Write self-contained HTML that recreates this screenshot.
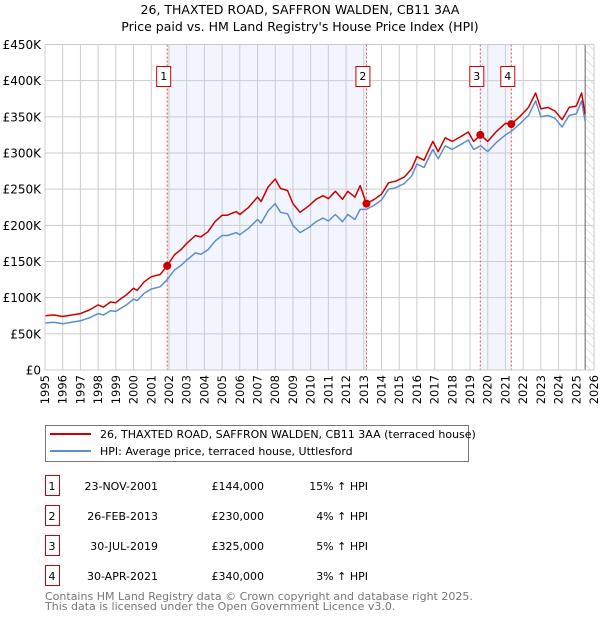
<!DOCTYPE html>
<html><head><meta charset="utf-8"><style>
body{margin:0;background:#fff;font-family:"Liberation Sans","DejaVu Sans",sans-serif;}
svg text{font-family:"DejaVu Sans","Liberation Sans",sans-serif;}
</style></head><body>
<svg id="c" width="600" height="620" viewBox="0 0 600 620" xmlns="http://www.w3.org/2000/svg">
<defs><pattern id="hatch" width="6" height="6" patternUnits="userSpaceOnUse" patternTransform="rotate(-45)"><line x1="0" y1="0" x2="0" y2="6" stroke="#ccc" stroke-width="1"/></pattern></defs>
<text x="300" y="14" text-anchor="middle" font-size="12.5">26, THAXTED ROAD, SAFFRON WALDEN, CB11 3AA</text>
<text x="300" y="31" text-anchor="middle" font-size="12.5">Price paid vs. HM Land Registry's House Price Index (HPI)</text>
<g id="plot"></g>
<g>
<rect x="45.5" y="425.5" width="423" height="36" fill="#fff" stroke="#777"/>
<line x1="50" y1="434" x2="91" y2="434" stroke="#cc0000" stroke-width="2"/>
<text x="100" y="438" font-size="11">26, THAXTED ROAD, SAFFRON WALDEN, CB11 3AA (terraced house)</text>
<line x1="50" y1="451" x2="91" y2="451" stroke="#5b8fd0" stroke-width="2"/>
<text x="100" y="455" font-size="11">HPI: Average price, terraced house, Uttlesford</text>
</g>
<g id="table" font-size="11"></g>
<text x="45" y="600" font-size="11" fill="#777">Contains HM Land Registry data © Crown copyright and database right 2025.</text>
<text x="45" y="610" font-size="11" fill="#777">This data is licensed under the Open Government Licence v3.0.</text>
</svg>
<script>
const years=[1995.0,1995.5,1996.0,1996.5,1997.0,1997.5,1998.0,1998.3,1998.7,1999.0,1999.2,1999.6,2000.0,2000.2,2000.6,2001.0,2001.5,2001.9,2002.3,2002.7,2003.0,2003.5,2003.8,2004.2,2004.6,2005.0,2005.3,2005.8,2006.0,2006.5,2007.0,2007.2,2007.6,2008.0,2008.3,2008.7,2009.0,2009.4,2009.9,2010.3,2010.7,2011.0,2011.4,2011.8,2012.1,2012.5,2012.8,2013.15,2013.6,2014.0,2014.4,2014.8,2015.3,2015.7,2016.0,2016.4,2016.9,2017.2,2017.6,2018.0,2018.5,2018.9,2019.2,2019.6,2020.0,2020.5,2021.0,2021.33,2021.8,2022.3,2022.7,2023.0,2023.4,2023.8,2024.2,2024.6,2025.0,2025.3,2025.5];
const hpi=[65,66,64,66,68,72,78,76,82,81,84,90,98,96,106,112,115,125,138,145,152,162,160,166,178,186,186,190,187,196,208,203,220,230,218,216,200,190,197,205,210,206,215,205,215,208,222,222,228,235,250,252,258,268,285,280,305,292,310,305,312,318,305,310,302,315,325,330,340,352,372,350,352,348,336,352,354,372,344];
const price=[75,76,74,76,78,83,90,87,94,93,97,104,113,110,122,129,132,144,159,167,175,186,184,191,205,214,214,219,215,225,239,233,253,264,251,248,230,218,227,236,241,237,247,236,247,239,255,230,236,243,259,261,267,278,295,290,316,302,321,316,323,329,316,325,316,330,341,340,350,363,383,361,363,358,346,363,365,383,354];
const saleYears=[2001.9,2013.15,2019.58,2021.33];
const salePrices=[144,230,325,340];
const saleLabels=["1","2","3","4"];
const saleDates=["23-NOV-2001","26-FEB-2013","30-JUL-2019","30-APR-2021"];
const saleAmounts=["£144,000","£230,000","£325,000","£340,000"];
const saleDiffs=["15% ↑ HPI","4% ↑ HPI","5% ↑ HPI","3% ↑ HPI"];
const yTicks=[0,50,100,150,200,250,300,350,400,450];
const yTickLabels=["£0","£50K","£100K","£150K","£200K","£250K","£300K","£350K","£400K","£450K"];
const NS="http://www.w3.org/2000/svg";
const X0=45,X1=594,Y0=370,Y1=44.5;
const xs=y=>X0+(y-1995)/(2026-1995)*(X1-X0);
const ys=v=>Y0-v/450*(Y0-Y1);
const plot=document.getElementById('plot');
function mk(tag,attrs,parent){const e=document.createElementNS(NS,tag);for(const k in attrs)e.setAttribute(k,attrs[k]);(parent||plot).appendChild(e);return e;}
for(const [a,b] of [[0,1],[2,3]]){
 const r=mk('rect',{x:xs(saleYears[a]),y:Y1,width:xs(saleYears[b])-xs(saleYears[a]),height:Y0-Y1,fill:'#f2f5fd'});
 
 
}
const h=mk('rect',{x:xs(2025.5),y:Y1,width:X1-xs(2025.5),height:Y0-Y1,fill:'url(#hatch)'});


for(let yr=1995;yr<=2026;yr++){
 const g=mk('line',{x1:xs(yr),x2:xs(yr),y1:Y1,y2:Y0,stroke:'#ccc','stroke-width':1});
 
 
 const t=mk('text',{x:0,y:0,'font-size':11.5,'text-anchor':'end',transform:`translate(${xs(yr)+4},${Y0+5}) rotate(-90)`});
 t.textContent=yr;
 
 
}
yTicks.forEach((v,i)=>{
 const g=mk('line',{x1:X0,x2:X1,y1:ys(v),y2:ys(v),stroke:'#ccc','stroke-width':1});
 
 
 const t=mk('text',{x:X0-4,y:ys(v)+4.5,'font-size':12,'text-anchor':'end'});
 t.textContent=yTickLabels[i];
 
 
});
mk('line',{x1:xs(2025.5),x2:xs(2025.5),y1:Y1,y2:Y0,stroke:'#666','stroke-width':1});
saleYears.forEach((sy,i)=>{
 const l=mk('line',{x1:xs(sy),x2:xs(sy),y1:Y1,y2:Y0,stroke:'#e05050','stroke-width':1,'stroke-dasharray':'2,2'});
 
 
 const r=mk('rect',{x:xs(sy)-10.5,y:66.5,width:14,height:20,fill:'#fff',stroke:'#cc0000'});
 
 
 const t=mk('text',{x:xs(sy)-3.5,y:80,'font-size':11,'text-anchor':'middle'});
 t.textContent=saleLabels[i];
 
 
});
function line(vals,color,name){
 const d=vals.map((v,i)=>(i?'L':'M')+xs(years[i]).toFixed(1)+','+ys(v).toFixed(1)).join('');
 const p=mk('path',{d:d,fill:'none',stroke:color,'stroke-width':1.5,'stroke-linejoin':'round'});
 
 
}
line(hpi,'#5b8fd0','hpi-line');
line(price,'#cc0000','price-paid-line');
saleYears.forEach((sy,i)=>{
 const c=mk('circle',{cx:xs(sy),cy:ys(salePrices[i]),r:4,fill:'#cc0000'});
 
 
});
mk('rect',{x:X0,y:Y1,width:X1-X0,height:Y0-Y1,fill:'none',stroke:'#ccc'});
const tb=document.getElementById('table');
saleDates.forEach((d,i)=>{
 const yy=492+i*30;
 const r=mk('rect',{x:45.5,y:yy-16.5,width:14,height:20,fill:'#fff',stroke:'#cc0000'},tb);
 
 
 const cells=[[52,saleLabels[i],'middle'],[158,d,'end'],[264,saleAmounts[i],'end'],[368,saleDiffs[i],'end']];
 cells.forEach(([x,s,a])=>{
  const t=mk('text',{x:x,y:yy-2,'text-anchor':a},tb);
  t.textContent=s;
  
  
 });
});
</script>
</body></html>
